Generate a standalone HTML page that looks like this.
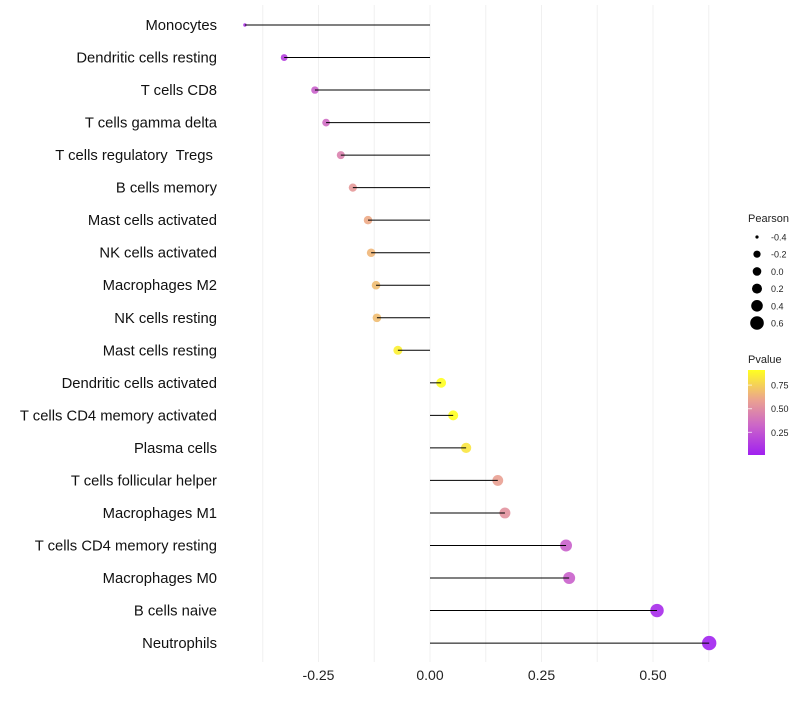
<!DOCTYPE html>
<html><head><meta charset="utf-8"><style>
body{margin:0;background:#fff;font-family:"Liberation Sans",sans-serif}
text{white-space:pre}
</style></head><body>
<svg id="chart" width="800" height="700" xmlns="http://www.w3.org/2000/svg">
<defs><linearGradient id="pg" x1="0" y1="1" x2="0" y2="0">
<stop offset="0" stop-color="#a020f0"/><stop offset="0.35" stop-color="#cc66c8"/><stop offset="0.65" stop-color="#eba38f"/><stop offset="1" stop-color="#ffff20"/></linearGradient></defs>
<g id="grid"></g><g id="marks"></g><g id="labels"></g><g id="legend"></g>
</svg>
<script>
const categories=["Monocytes","Dendritic cells resting","T cells CD8","T cells gamma delta","T cells regulatory  Tregs ","B cells memory","Mast cells activated","NK cells activated","Macrophages M2","NK cells resting","Mast cells resting","Dendritic cells activated","T cells CD4 memory activated","Plasma cells","T cells follicular helper","Macrophages M1","T cells CD4 memory resting","Macrophages M0","B cells naive","Neutrophils"];
const pearson=[-0.415,-0.327,-0.258,-0.233,-0.2,-0.173,-0.139,-0.132,-0.121,-0.119,-0.072,0.025,0.052,0.081,0.152,0.168,0.305,0.312,0.509,0.626];
const pvalues=[0.1,0.15,0.3,0.35,0.45,0.55,0.62,0.66,0.68,0.68,0.86,0.95,0.92,0.82,0.58,0.52,0.3,0.3,0.06,0.02];
const xTicks=[-0.25,0,0.25,0.5];
const xTickLabels=["-0.25","0.00","0.25","0.50"];
const sizeLegend=[-0.4,-0.2,0,0.2,0.4,0.6];
const colorTicks=[0.25,0.5,0.75];
const NS="http://www.w3.org/2000/svg";
const x=v=>430+v*446;
const y=i=>25+i*32.53;
const rs=[[-0.42,1.6],[-0.33,3.4],[-0.2,4.0],[0,4.8],[0.2,5.6],[0.4,6.3],[0.63,7.2]];
function r(v){if(v<=rs[0][0])return rs[0][1];for(let k=1;k<rs.length;k++){if(v<=rs[k][0]){const a=rs[k-1],b=rs[k];return a[1]+(b[1]-a[1])*(v-a[0])/(b[0]-a[0]);}}return rs[rs.length-1][1];}
function col(p){const s=[[0,[160,32,240]],[0.35,[204,102,200]],[0.65,[235,163,143]],[1,[255,255,32]]];
 const t=Math.min(1,Math.max(0,(p-0.01)/0.9));for(let k=1;k<s.length;k++){if(t<=s[k][0]){const a=s[k-1],b=s[k],f=(t-a[0])/(b[0]-a[0]);return `rgb(${a[1].map((c,j)=>Math.round(c+(b[1][j]-c)*f)).join(",")})`;}}return "rgb(255,255,32)";}
function mk(tag,attrs,parent,text){const e=document.createElementNS(NS,tag);for(const k in attrs)e.setAttribute(k,attrs[k]);if(text!==undefined)e.textContent=text;document.getElementById(parent).appendChild(e);return e;}
for(let v=-0.375;v<=0.63;v+=0.125){const g=mk("line",{x1:x(v),x2:x(v),y1:5,y2:662,stroke:"#f0f0f0","stroke-width":1},"grid");

}
xTicks.forEach((v,i)=>{const t=mk("text",{x:x(v),y:680,"text-anchor":"middle","font-size":14,fill:"#222"},"labels",xTickLabels[i]);

});
categories.forEach((c,i)=>{
 const t=mk("text",{x:217,y:y(i)+5,"text-anchor":"end","font-size":14.8,fill:"#111"},"labels",c);
 
 
 const d=mk("circle",{cx:x(pearson[i]),cy:y(i),r:r(pearson[i]),fill:col(pvalues[i]),"fill-opacity":0.9},"marks");
 
 
 const l=mk("line",{x1:x(0),x2:x(pearson[i]),y1:y(i),y2:y(i),stroke:"#000","stroke-width":1},"marks");
 
 
});
let tt=mk("text",{x:748,y:222,"font-size":11,fill:"#222"},"legend","Pearson");


const lr=[1.6,3.6,4.3,5.0,5.8,6.8];
sizeLegend.forEach((v,i)=>{const cy=237+i*17.2;
 const c=mk("circle",{cx:757,cy:cy,r:lr[i],fill:"#000"},"legend");
 
 
 const t=mk("text",{x:771,y:cy+3.5,"font-size":9,fill:"#222"},"legend",v.toFixed(1));
 
 });
tt=mk("text",{x:748,y:363,"font-size":11,fill:"#222"},"legend","Pvalue");


const bar=mk("rect",{x:748,y:370,width:17,height:85,fill:"url(#pg)"},"legend");


const cy=p=>455-(p-0.01)/0.9*85;
colorTicks.forEach(v=>{
 const l=mk("line",{x1:748,x2:752,y1:cy(v),y2:cy(v),stroke:"#fff","stroke-opacity":0.7},"legend");
 
 
 const t=mk("text",{x:771,y:cy(v)+3.5,"font-size":9,fill:"#222"},"legend",v.toFixed(2));
 
 });
</script>
</body></html>
